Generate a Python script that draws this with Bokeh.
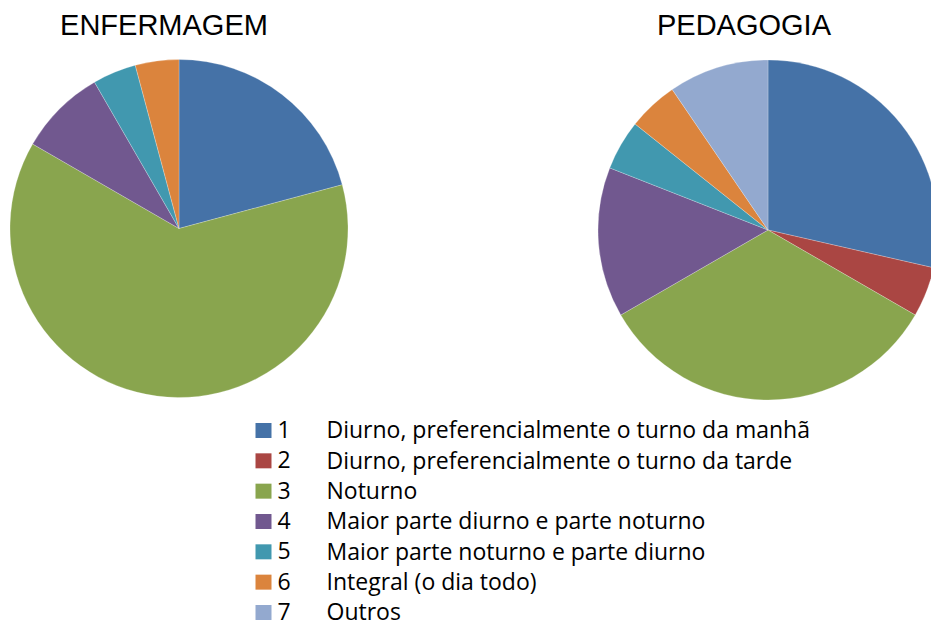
import math
from bokeh.plotting import figure
from bokeh.models import Range1d, ColumnDataSource
from bokeh.core.properties import value
from bokeh.embed import file_html
from bokeh.resources import INLINE

# ---- data ----
codes = ["1", "2", "3", "4", "5", "6", "7"]
labels = [
    "Diurno, preferencialmente o turno da manhã",
    "Diurno, preferencialmente o turno da tarde",
    "Noturno",
    "Maior parte diurno e parte noturno",
    "Maior parte noturno e parte diurno",
    "Integral (o dia todo)",
    "Outros",
]
enfermagem = [5, 0, 15, 2, 1, 1, 0]
pedagogia = [6, 1, 7, 3, 1, 1, 2]
titles = ["ENFERMAGEM", "PEDAGOGIA"]
colors = ["#4572A7", "#AA4643", "#89A54E", "#71588F", "#4198AF", "#DB843D", "#93A9CF"]

# ---- layout ----
W, H = 931, 628


def Y(py):
    return H - py


p = figure(width=W, height=H, x_range=Range1d(0, W), y_range=Range1d(0, H),
           output_backend="svg", toolbar_location=None, min_border=0)
p.axis.visible = False
p.grid.visible = False
p.outline_line_color = None
p.background_fill_color = "white"
p.border_fill_color = "white"

TITLE_FS = 29
LEG_FS = 23
BL = 0.37  # baseline correction factor (em)

pies = [
    dict(vals=enfermagem, cx=178.5, cy=228, r=169, tx=163.5),
    dict(vals=pedagogia, cx=767.5, cy=229.5, r=170, tx=743.5),
]

for title, pie in zip(titles, pies):
    vals = pie["vals"]
    total = float(sum(vals))
    cum = 0.0
    xs, ys, starts, ends, cols = [], [], [], [], []
    for v, c in zip(vals, colors):
        if v <= 0:
            continue
        s = cum / total
        cum += v
        e = cum / total
        starts.append(math.pi / 2 - 2 * math.pi * e)
        ends.append(math.pi / 2 - 2 * math.pi * s)
        xs.append(pie["cx"])
        ys.append(Y(pie["cy"]))
        cols.append(c)
    src = ColumnDataSource(dict(x=xs, y=ys, start=starts, end=ends, color=cols))
    p.wedge(x="x", y="y", radius=pie["r"], start_angle="start", end_angle="end",
            fill_color="color", line_color="white", line_width=0.4, line_alpha=0.6,
            direction="anticlock", source=src)
    p.text(x=[pie["tx"]], y=[Y(35 - BL * TITLE_FS)], text=[title], text_align="center",
           text_baseline="alphabetic", text_font=value("Liberation Sans"),
           text_font_size=f"{TITLE_FS}px", text_color="#000000")

# ---- legend ----
row0, step = 430, 30.33
sq_l, sq_r, sq_h = 255, 271, 15
lt, lb, ll, lr, ty = [], [], [], [], []
for i in range(len(codes)):
    cy = row0 + i * step
    lt.append(Y(cy - sq_h / 2))
    lb.append(Y(cy + sq_h / 2))
    ll.append(sq_l)
    lr.append(sq_r)
    ty.append(Y(cy + 7.5 - BL * LEG_FS))
p.quad(left=ll, right=lr, top=lt, bottom=lb, fill_color=colors, line_color=None)
p.text(x=[277] * len(codes), y=ty, text=codes, text_align="left", text_baseline="alphabetic",
       text_font=value("Open Sans"), text_font_size=f"{LEG_FS}px", text_color="#000000")
p.text(x=[326] * len(codes), y=ty, text=labels, text_align="left", text_baseline="alphabetic",
       text_font=value("Open Sans"), text_font_size=f"{LEG_FS}px", text_color="#000000")

open("out.html", "w").write(file_html(p, INLINE))
